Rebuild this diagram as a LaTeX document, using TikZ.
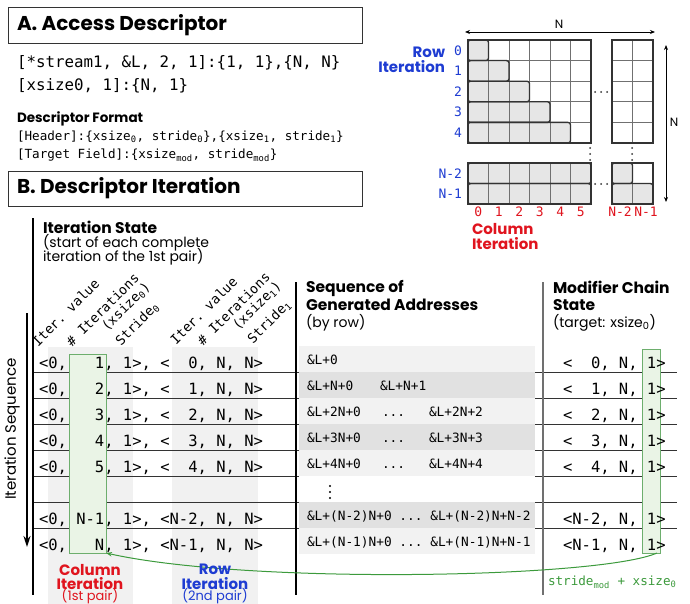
\documentclass[tikz,border=0pt]{standalone}
\usepackage{fontspec}
\setmainfont{Poppins}
\newfontfamily\monof{DejaVu Sans Mono}
\usetikzlibrary{arrows.meta}
\definecolor{rowblue}{HTML}{1E3CD2}
\definecolor{colred}{HTML}{E0141E}
\definecolor{grline}{HTML}{3C9A3C}
\definecolor{grfill}{HTML}{EAF4E6}
\definecolor{grbord}{HTML}{6DAE6D}
\definecolor{bandA}{HTML}{F1F1F1}
\definecolor{bandL}{HTML}{F2F2F2}
\definecolor{bandD}{HTML}{E1E1E1}
\definecolor{cellg}{HTML}{E6E6E6}
\definecolor{darkl}{HTML}{333333}
\definecolor{gridc}{HTML}{707070}
\newcommand\pz{\phantom{0}}
\newcommand\sbs[1]{\textsubscript{#1}}
\begin{document}
\begin{tikzpicture}[x=1pt,y=-1pt,
  txt/.style={inner sep=0pt, outer sep=0pt},
  ttl/.style={txt, font=\fontsize{20}{23}\selectfont\bfseries, anchor=west},
  hd/.style={txt, font=\fontsize{15.5}{17}\selectfont\bfseries, anchor=west},
  subt/.style={txt, font=\fontsize{14}{15}\selectfont, anchor=west},
  codeL/.style={txt, font=\fontsize{15.8}{18}\selectfont\monof\frenchspacing, anchor=west},
  codeS/.style={txt, font=\fontsize{12.6}{14}\selectfont\monof\frenchspacing, anchor=west},
  fmtT/.style={txt, font=\fontsize{13.5}{15}\selectfont\bfseries, anchor=west},
  rowt/.style={txt, font=\fontsize{15.5}{18}\selectfont\monof\frenchspacing, anchor=base west},
  addr/.style={txt, font=\fontsize{12.8}{14}\selectfont\monof\frenchspacing, anchor=base west},
  rhead/.style={txt, font=\fontsize{13.3}{14}\selectfont\monof\frenchspacing, rotate=45},
  idxb/.style={txt, font=\fontsize{13}{14}\selectfont\monof, text=rowblue, anchor=east},
  idxr/.style={txt, font=\fontsize{13}{14}\selectfont\monof, text=colred},
  hdrbox/.style={draw=darkl, line width=0.9pt},
  gridl/.style={draw=gridc, line width=0.9pt},
  cellout/.style={draw=darkl, line width=1.3pt, rounded corners=2.5pt},
  blockout/.style={draw=darkl, line width=1.5pt},
  rowline/.style={draw=darkl, line width=1pt},
  vline/.style={draw=black, line width=1.1pt},
  grbox/.style={draw=grbord, fill=grfill, line width=1pt, inner sep=0pt, outer sep=0pt},
  dimarrow/.style={draw=black, line width=0.8pt, {Stealth[length=5pt,width=4pt]}-{Stealth[length=5pt,width=4pt]}}
]
\fill[white] (0,0) rectangle (690,604);
\useasboundingbox (0,0) rectangle (690,604);

% ---------------- Section A ----------------
\draw[hdrbox] (8,7) rectangle (362,43);
\node[ttl] (ttlA) at (17,25) {A. Access Descriptor};
\node[codeL] (descA) at (17,63) {[*stream1, \&L, 2, 1]:\{1, 1\},\{N, N\}};
\node[codeL] (descB) at (17,86) {[xsize0, 1]:\{N, 1\}};
\node[fmtT] (fmtTitle) at (17,119) {Descriptor Format};
\node[codeS] (fmtA) at (17,137) {[Header]:\{xsize\sbs{0}, stride\sbs{0}\},\{xsize\sbs{1}, stride\sbs{1}\}};
\node[codeS] (fmtB) at (17,155) {[Target Field]:\{xsize\sbs{mod}, stride\sbs{mod}\}};

% ---------------- Matrix ----------------
% fills
\foreach \r in {0,...,4} {
  \fill[cellg] (468,{40+\r*20.6}) rectangle ({468+(\r+1)*20.5},{40+(\r+1)*20.6});
}
\fill[cellg] (468,163) rectangle (591,204.2);
\fill[cellg] (612,163) rectangle (632.5,183.6);
\fill[cellg] (612,183.6) rectangle (653,204.2);
% grid lines
\foreach \k in {1,...,5} {
  \draw[gridl] ({468+\k*20.5},40) -- ({468+\k*20.5},143);
  \draw[gridl] ({468+\k*20.5},163) -- ({468+\k*20.5},204.2);
}
\foreach \k in {1,...,4} {
  \draw[gridl] (468,{40+\k*20.6}) -- (591,{40+\k*20.6});
  \draw[gridl] (612,{40+\k*20.6}) -- (653,{40+\k*20.6});
}
\draw[gridl] (632.5,40) -- (632.5,143);
\draw[gridl] (632.5,163) -- (632.5,204.2);
\draw[gridl] (468,183.6) -- (591,183.6);
\draw[gridl] (612,183.6) -- (653,183.6);
% outlines of filled parts
\foreach \r in {0,...,4} {
  \draw[cellout] (468,{40+\r*20.6}) rectangle ({468+(\r+1)*20.5},{40+(\r+1)*20.6});
}
\draw[cellout] (468,163) rectangle (591,183.6);
\draw[cellout] (468,183.6) rectangle (591,204.2);
\draw[cellout] (612,163) rectangle (632.5,183.6);
\draw[cellout] (612,183.6) rectangle (653,204.2);
% block borders
\draw[blockout] (468,40) rectangle (591,143);
\draw[blockout] (612,40) rectangle (653,143);
\draw[blockout] (468,163) rectangle (591,204.2);
\draw[blockout] (612,163) rectangle (653,204.2);
% dots
\foreach \x in {595,601,607} {
  \fill[darkl] (\x,92) circle (1);
  \fill[darkl] (\x,184) circle (1);
}
\foreach \y in {148,154,160} {
  \fill[darkl] (590,\y) circle (1);
  \fill[darkl] (632,\y) circle (1);
}
% dimension arrows
\coordinate (topL) at (465,32);
\coordinate (topR) at (655,32);
\coordinate (rgtT) at (666,45);
\coordinate (rgtB) at (666,202);
\draw[dimarrow] (topL) -- (topR);
\draw[dimarrow] (rgtT) -- (rgtB);
\node[txt, font=\fontsize{12}{13}\selectfont] (nTop) at (559,24) {N};
\node[txt, font=\fontsize{12}{13}\selectfont] (nRgt) at (674,122) {N};
% row labels
\foreach \r in {0,...,4} {
  \node[idxb] (ri\r) at (462,{50.3+\r*20.6}) {\r};
}
\node[idxb] (riA) at (462,173.3) {N-2};
\node[idxb] (riB) at (462,193.9) {N-1};
\node[txt, font=\fontsize{15}{15}\selectfont\bfseries, text=rowblue, align=right, anchor=east] (rowIt) at (445,59.5) {Row\\Iteration};
% column labels
\foreach \c in {0,...,5} {
  \node[idxr] (ci\c) at ({478.25+\c*20.5},212) {\c};
}
\node[idxr] (ciA) at (620,212) {N-2};
\node[idxr] (ciB) at (646,212) {N-1};
\node[txt, font=\fontsize{15}{15}\selectfont\bfseries, text=colred, align=left, anchor=west] (colIt) at (472,237) {Column\\Iteration};

% ---------------- Section B ----------------
\draw[hdrbox] (8,171) rectangle (362,206);
\node[ttl] (ttlB) at (17,188) {B. Descriptor Iteration};

% background bands
\fill[bandA] (48,347) rectangle (133,604);
\fill[bandA] (172,347) rectangle (258,604);

% row lines
\foreach \y in {372,398,424,450,476,502,528} {
  \draw[rowline] (33,\y) -- (299,\y);
  \draw[rowline] (535,\y) -- (677,\y);
}

% address bands
\fill[bandL] (299,346) rectangle (535,372);
\fill[bandD] (299,372) rectangle (535,398);
\fill[bandL] (299,398) rectangle (535,424);
\fill[bandD] (299,424) rectangle (535,450);
\fill[bandL] (299,450) rectangle (535,476);
\fill[white] (299,476) rectangle (535,502);
\fill[bandD] (299,502) rectangle (535,528);
\fill[bandL] (299,528) rectangle (535,554);

% column dividers
\draw[vline] (33,218) -- (33,595);
\draw[vline] (296,282) -- (296,595);
\draw[vline, draw=gridc] (543,282) -- (543,595);

% headings
\node[hd] (isT) at (43,227) {Iteration State};
\node[subt] (isS1) at (43,243) {(start of each complete};
\node[subt] (isS2) at (43,257) {iteration of the 1st pair)};
\node[hd] (sqT1) at (306,288) {Sequence of};
\node[hd] (sqT2) at (306,305) {Generated Addresses};
\node[subt] (sqS) at (306,323) {(by row)};
\node[hd] (mcT1) at (553,287) {Modifier Chain};
\node[hd] (mcT2) at (553,305) {State};
\node[subt] (mcS) at (553,323) {(target: xsize\sbs{0})};

% rotated column headers
\node[rhead, anchor=base west] (h1a) at (38,347) {Iter. value};
\node[rhead, anchor=base west] (h1b) at (72,347) {\# Iterations};
\node[rhead, anchor=base east] (h1c) at (151,288) {(xsize\sbs{0})};
\node[rhead, anchor=base west] (h1d) at (121,346) {Stride\sbs{0}};
\node[rhead, anchor=base west] (h2a) at (176,345) {Iter. value};
\node[rhead, anchor=base west] (h2b) at (203,346) {\# Iterations};
\node[rhead, anchor=base east] (h2c) at (282,287) {(xsize\sbs{1})};
\node[rhead, anchor=base west] (h2d) at (253,344) {Stride\sbs{1}};

% green highlight boxes
\node[grbox, minimum width=37pt, minimum height=199pt, anchor=north west] (gbL) at (69,354) {};
\node[grbox, minimum width=18pt, minimum height=204pt, anchor=north west] (gbR) at (642,349) {};

% iteration state rows
\node[rowt] (s0) at (39,368) {<0, \pz\pz1, 1>, <\pz\pz0, N, N>};
\node[rowt] (s1) at (39,394) {<0, \pz\pz2, 1>, <\pz\pz1, N, N>};
\node[rowt] (s2) at (39,420) {<0, \pz\pz3, 1>, <\pz\pz2, N, N>};
\node[rowt] (s3) at (39,446) {<0, \pz\pz4, 1>, <\pz\pz3, N, N>};
\node[rowt] (s4) at (39,472) {<0, \pz\pz5, 1>, <\pz\pz4, N, N>};
\node[rowt] (s5) at (39,524) {<0, N-1, 1>, <N-2, N, N>};
\node[rowt] (s6) at (39,550) {<0, \pz\pz N, 1>, <N-1, N, N>};

% addresses
\node[addr] (a0) at (307,364) {\&L+0};
\node[addr] (a1) at (307,390) {\&L+N+0};
\node[addr] (a1b) at (380,390) {\&L+N+1};
\node[addr] (a2) at (307,416) {\&L+2N+0};
\node[addr] (a2d) at (382,416) {...};
\node[addr] (a2b) at (429,416) {\&L+2N+2};
\node[addr] (a3) at (307,442) {\&L+3N+0};
\node[addr] (a3d) at (382,442) {...};
\node[addr] (a3b) at (429,442) {\&L+3N+3};
\node[addr] (a4) at (307,468) {\&L+4N+0};
\node[addr] (a4d) at (382,468) {...};
\node[addr] (a4b) at (429,468) {\&L+4N+4};
\fill (330,486) circle (1.1);
\fill (330,492) circle (1.1);
\fill (330,498) circle (1.1);
\node[addr] (a5) at (307,520) {\&L+(N-2)N+0 ... \&L+(N-2)N+N-2};
\node[addr] (a6) at (307,546) {\&L+(N-1)N+0 ... \&L+(N-1)N+N-1};

% modifier chain rows
\node[rowt] (m0) at (563,368) {<\pz\pz0, N, 1>};
\node[rowt] (m1) at (563,394) {<\pz\pz1, N, 1>};
\node[rowt] (m2) at (563,420) {<\pz\pz2, N, 1>};
\node[rowt] (m3) at (563,446) {<\pz\pz3, N, 1>};
\node[rowt] (m4) at (563,472) {<\pz\pz4, N, 1>};
\node[rowt] (m5) at (563,524) {<N-2, N, 1>};
\node[rowt] (m6) at (563,550) {<N-1, N, 1>};

% green connector
\draw[draw=grline, line width=1pt, -{Stealth[length=6pt,width=4.5pt]}]
  ([xshift=-3pt]gbR.south east) .. controls (600,578) and (250,585) .. (gbL.south east);
\node[txt, font=\fontsize{12.6}{14}\selectfont\monof, text=grline, anchor=west] (glab) at (548,582) {stride\sbs{mod} + xsize\sbs{0}};

% iteration sequence arrow
\coordinate (seqA) at (27,313);
\coordinate (seqB) at (27,547);
\draw[line width=1.8pt, -{Stealth[length=11pt,width=7pt]}] (seqA) -- (seqB);
\node[txt, font=\fontsize{15}{16}\selectfont, rotate=90] (seqT) at (12,429) {Iteration Sequence};

% bottom labels
\node[txt, font=\fontsize{15}{14.5}\selectfont\bfseries, text=colred, align=center] (colL) at (90,577) {Column\\Iteration};
\node[txt, font=\fontsize{13}{14}\selectfont, text=colred] (colP) at (90,596) {(1st pair)};
\node[txt, font=\fontsize{15}{14.5}\selectfont\bfseries, text=rowblue, align=center] (rowL) at (215,577) {Row\\Iteration};
\node[txt, font=\fontsize{13}{14}\selectfont, text=rowblue] (rowP) at (215,596) {(2nd pair)};
\end{tikzpicture}
\end{document}
